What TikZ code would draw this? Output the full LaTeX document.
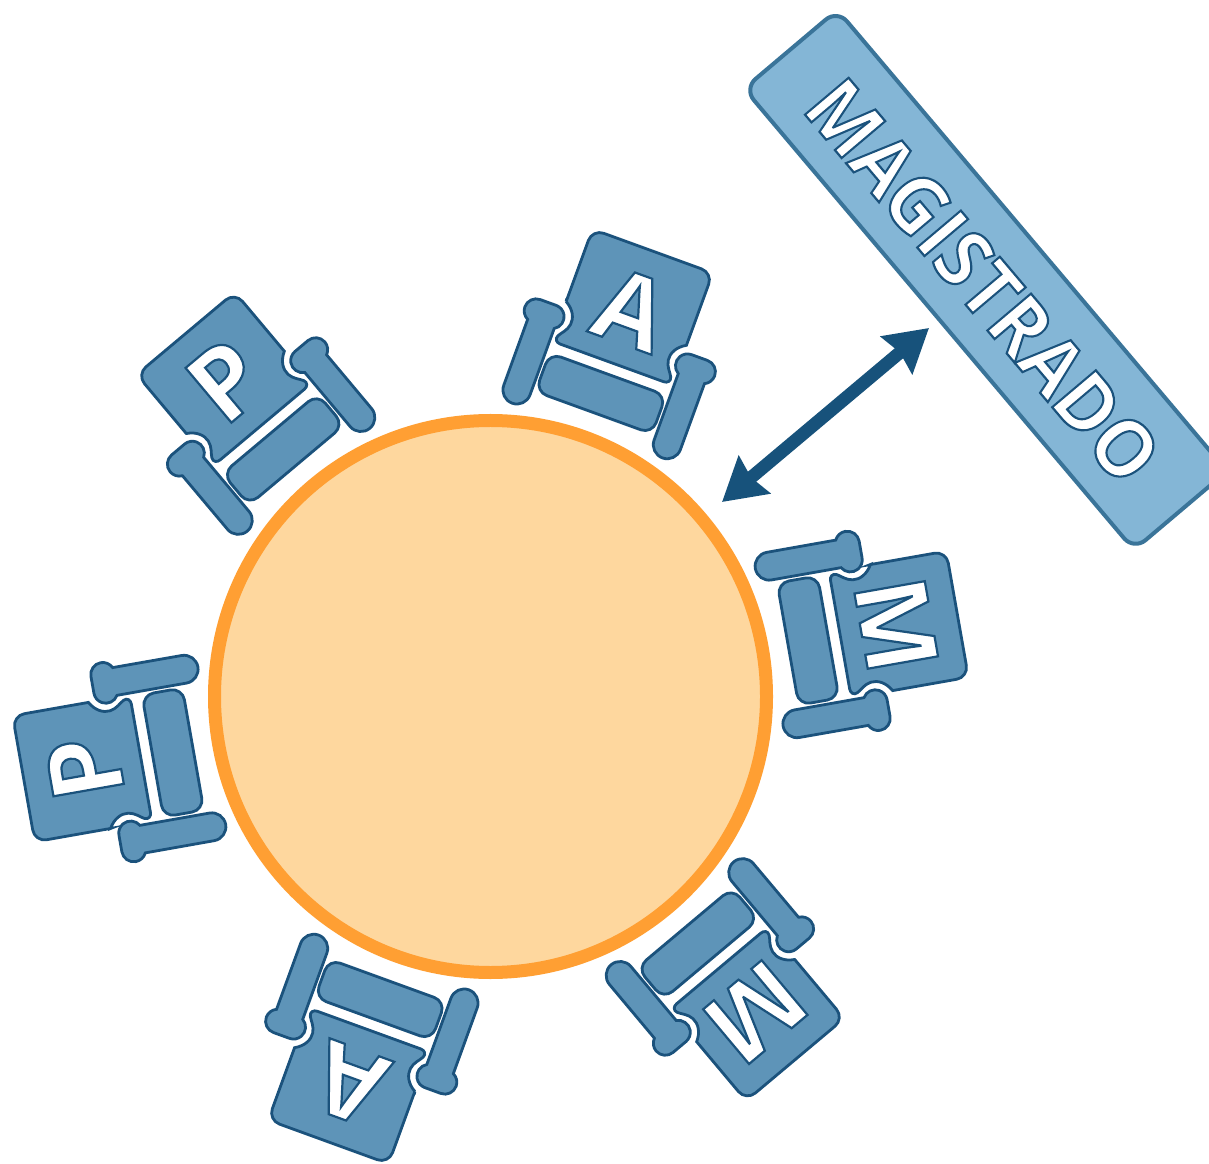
\documentclass[tikz,border=0pt]{standalone}
\usepackage{fontspec}
\usepackage{xcolor}
\usetikzlibrary{arrows.meta, positioning, calc}
\setmainfont{Open Sans}
\definecolor{chairfill}{HTML}{5E94B8}
\definecolor{chairline}{HTML}{1B527C}
\definecolor{tablefill}{HTML}{FED79E}
\definecolor{tableline}{HTML}{FF9F33}
\definecolor{bannerfill}{HTML}{84B6D6}
\definecolor{bannerline}{HTML}{3A7499}
\definecolor{arrowline}{HTML}{17527B}
\newcommand{\outlined}[1]{\special{pdf:code q 2 Tr 2.2 w 0.106 0.322 0.486 RG 1 1 1 rg}#1\special{pdf:code Q}}
\newcommand{\chairarm}{
	\draw[chairpart] (-94,297) arc[start angle=180, end angle=360, radius=14] -- (-66,367.6)
	arc[start angle=-60, end angle=90, radius=12] -- (-89,390)
	arc[start angle=90, end angle=245, radius=12] -- cycle;
}
\tikzset{
	chairpart/.style={draw=chairline, fill=chairfill, line width=2.8pt},
	pics/chair/.style={code={
		% Back
		\draw[chairpart] (-64,397) -- (-64,462) arc[start angle=180, end angle=90, radius=12] -- (52,474)
		arc[start angle=90, end angle=0, radius=12] -- (64,397)
		.. controls (55,392) and (51,384) .. (52,377) .. controls (53,370) and (58,366) .. (60,362)
		.. controls (62,358) and (59,355) .. (55,355) -- (-55,355)
		.. controls (-59,355) and (-62,358) .. (-60,362) .. controls (-58,366) and (-53,370) .. (-52,377)
		.. controls (-51,384) and (-55,392) .. cycle;
		% Seat
		\draw[chairpart, rounded corners=12pt] (-62,302) rectangle (62,343);
		% Arms
		\chairarm
		\begin{scope}[xscale=-1]
			\chairarm
		\end{scope}
		% Letter
		\node[transform shape, inner sep=0pt, font=\fontsize{100}{100}\selectfont\bfseries] (-letter) at (0,412)
		{\outlined{#1}};
	}}
}
\begin{document}
\begin{tikzpicture}[x=1pt, y=1pt]
	\useasboundingbox (0,0) rectangle (1209,1163);
	
	% Table
	\node[circle, draw=tableline, fill=tablefill, line width=13pt, minimum size=552pt, inner sep=0pt] (table) at (490.5,466.5) {};
	
	% Chairs
	\pic[rotate=-20] (chairA) at (table.center) {chair=A};
	\pic[rotate=-80] (chairM) at (table.center) {chair=M};
	\pic[rotate=-140] (chairN) at (table.center) {chair=M};
	\pic[rotate=-200] (chairB) at (table.center) {chair=A};
	\pic[rotate=-260] (chairP) at (table.center) {chair=P};
	\pic[rotate=-320] (chairQ) at (table.center) {chair=P};
	
	% Banner
	\node[draw=bannerline, fill=bannerfill, line width=4pt, rounded corners=15pt, rotate=-49.8,
		minimum width=604pt, minimum height=122pt, inner sep=0pt] (magistrado) at (985.6,883.1) {};
	\node[rotate=-49.8, inner sep=0pt, xscale=0.93, font=\fontsize{80}{80}\selectfont\bfseries] (magistradotext) at (983,882)
	{\outlined{MAGISTRADO}};
	
	% Arrow
	\coordinate (tableend) at (722,661);
	\coordinate (bannerend) at (929,835);
	\draw[{Stealth[length=42pt, width=48pt, inset=4pt]}-{Stealth[length=42pt, width=48pt, inset=4pt]}, line width=13pt, draw=arrowline] (tableend) -- (bannerend);
	
\end{tikzpicture}
\end{document}
